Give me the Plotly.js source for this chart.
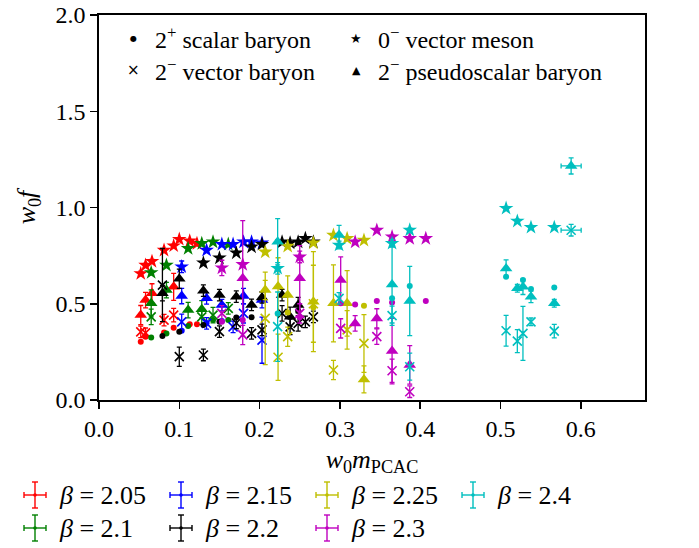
<!DOCTYPE html>
<html>
<head>
<meta charset="utf-8">
<script src="https://cdn.plot.ly/plotly-3.0.1.min.js"></script>
<style>html,body{margin:0;padding:0;background:#fff}</style>
</head>
<body>
<div id="chart" style="width:699px;height:548px"></div>
<script>
// ---- beta = 2.05 ----
const m_205       = [0.052, 0.058, 0.066, 0.081, 0.093, 0.100, 0.113, 0.122];
const meson_205   = [0.657, 0.700, 0.720, 0.778, 0.801, 0.835, 0.826, 0.813];
const mesonE_205  = [0.012, 0.010, 0.010, 0.008, 0.008, 0.008, 0.007, 0.007];
const scalar_205  = [0.302, 0.328, null, 0.351, 0.375, null, 0.393, 0.394];
const vector_205  = [0.354, 0.349, null, 0.415, 0.441, null, null, null];
const vectorE_205 = [0.030, 0.025, 0, 0.030, 0.035, 0, 0, 0];
const pseudo_205  = [0.441, 0.519, 0.554, null, 0.588, null, null, null];
const pseudoE_205 = [0.050, 0.040, 0.050, 0, 0.070, 0, 0, 0];

// ---- beta = 2.1 ----
const m_210       = [0.065, 0.084, 0.111, 0.128, 0.142, 0.161];
const meson_210   = [0.662, 0.700, 0.787, 0.813, 0.821, 0.809];
const mesonE_210  = [0.012, 0.010, 0.008, 0.007, 0.007, 0.007];
const scalar_210  = [0.325, 0.346, 0.385, null, 0.415, 0.415];
const vector_210  = [0.432, null, null, 0.432, 0.441, 0.476];
const vectorE_210 = [0.040, 0, 0, 0.040, 0.040, 0.030];
const pseudo_210  = [0.502, 0.571, 0.467, 0.471, null, null];
const pseudoE_210 = [0.070, 0.040, 0.040, 0.045, 0, 0];

// ---- beta = 2.15 ----
const m_215       = [0.103, 0.134, 0.153, 0.167, 0.180, 0.190, 0.203];
const meson_215   = [0.692, 0.778, 0.809, 0.809, 0.821, 0.821, 0.816];
const mesonE_215  = [0.030, 0.010, 0.008, 0.008, 0.007, 0.007, 0.007];
const scalar_215  = [0.360, 0.400, 0.410, null, null, null, null];
const vector_215  = [0.406, 0.398, null, 0.380, 0.450, null, 0.311];
const vectorE_215 = [0.040, 0.030, 0, 0.030, 0.050, 0, 0.120];
const pseudo_215  = [0.540, 0.528, 0.493, null, 0.540, null, 0.519];
const pseudoE_215 = [0.040, 0.030, 0.030, 0, 0.040, 0, 0.040];

// ---- beta = 2.2 ----
const m_220       = [0.079, 0.100, 0.130, 0.150, 0.171, 0.190, 0.203, 0.228, 0.238, 0.248, 0.257, 0.267];
const meson_220   = [null, null, 0.712, 0.738, 0.764, 0.795, 0.809, 0.821, 0.816, 0.821, 0.839, 0.821];
const mesonE_220  = [0, 0, 0.010, 0.008, 0.008, 0.007, 0.007, 0.007, 0.007, 0.007, 0.007, 0.007];
const scalar_220  = [0.332, 0.355, 0.390, 0.407, 0.428, 0.430, null, null, null, 0.463, null, null];
const vector_220  = [0.597, 0.225, 0.234, 0.355, 0.400, 0.346, 0.364, 0.450, 0.380, 0.398, 0.406, 0.432];
const vectorE_220 = [0.190, 0.050, 0.030, 0.030, 0.030, 0.030, 0.030, 0.040, 0.040, 0.040, 0.030, 0.030];
const pseudo_220  = [0.555, 0.630, 0.568, 0.545, 0.537, 0.494, 0.533, 0.545, 0.432, 0.493, null, null];
const pseudoE_220 = [0.040, 0.050, 0.030, 0.030, 0.030, 0.030, 0.030, 0.030, 0.050, 0.040, 0, 0];

// ---- beta = 2.25 ----
const m_225       = [0.207, 0.223, 0.235, 0.267, 0.292, 0.309, 0.330];
const meson_225   = [0.769, null, 0.799, 0.816, 0.856, 0.839, 0.830];
const mesonE_225  = [0.010, 0, 0.008, 0.008, 0.008, 0.008, 0.008];
const scalar_225  = [null, null, 0.455, 0.480, null, null, 0.490];
const vector_225  = [0.424, 0.222, 0.329, 0.500, 0.156, 0.364, 0.294];
const vectorE_225 = [0.240, 0.120, 0.050, 0.200, 0.050, 0.100, 0.150];
const pseudo_225  = [0.571, 0.589, 0.545, 0.511, 0.502, 0.502, 0.107];
const pseudoE_225 = [0.050, 0.150, 0.100, 0.260, 0.200, 0.170, 0.070];

// ---- beta = 2.3 ----
const m_230       = [0.153, 0.179, 0.250, 0.301, 0.319, 0.346, 0.365, 0.387, 0.407];
const meson_230   = [0.686, 0.704, 0.743, null, 0.821, 0.882, 0.848, 0.839, 0.839];
const mesonE_230  = [0.040, 0.010, 0.030, 0, 0.010, 0.010, 0.010, 0.010, 0.010];
const scalar_230  = [0.407, 0.416, 0.430, 0.502, 0.496, 0.514, 0.507, null, 0.514];
const vector_230  = [0.450, 0.338, 0.450, 0.372, null, 0.329, 0.152, 0.043, null];
const vectorE_230 = [0.040, 0.050, 0.050, 0.050, 0, 0.040, 0.060, 0.030, 0];
const pseudo_230  = [null, 0.632, 0.632, 0.623, 0.398, 0.424, 0.254, 0.182, null];
const pseudoE_230 = [0, 0.300, 0.170, 0.120, 0.040, 0.050, 0.170, 0.100, 0];

// ---- beta = 2.4 ----
const m_240       = [0.2225, 0.299, 0.365, 0.387, 0.507, 0.521, 0.528, 0.538, 0.567, 0.588];
const mE_240      = [0, 0, 0, 0, 0, 0, 0, 0, 0, 0.0125];
const meson_240   = [0.684, 0.805, 0.814, 0.883, 0.996, 0.929, null, 0.897, 0.897, null];
const mesonE_240  = [0.030, 0.020, 0.020, 0.010, 0.010, 0.010, 0, 0.010, 0.010, 0];
const scalar_240  = [0.450, null, 0.528, 0.592, 0.640, null, 0.623, 0.576, 0.585, null];
const vector_240  = [0.381, 0.528, 0.438, 0.173, 0.360, 0.306, 0.346, 0.406, 0.358, 0.882];
const vectorE_240 = [0.180, 0.030, 0.050, 0.070, 0.080, 0.060, 0.140, 0.020, 0.035, 0.030];
const pseudo_240  = [0.822, 0.857, 0.600, 0.514, 0.683, 0.580, 0.588, 0.536, 0.502, 1.216];
const pseudoE_240 = [0.120, 0.050, 0.200, 0.180, 0.045, 0.020, 0.040, 0.030, 0.020, 0.042];

const betaLabels = ['2.05', '2.1', '2.15', '2.2', '2.25', '2.3', '2.4'];
const betaColors = ['#ff0000', '#008000', '#0000ff', '#000000', '#bfbf00', '#bf00bf', '#00bfbf'];

const channelLabels = [
  '2<sup>+</sup> scalar baryon',
  '0<sup>\u2212</sup> vector meson',
  '2<sup>\u2212</sup> vector baryon',
  '2<sup>\u2212</sup> pseudoscalar baryon'
];

const ensembles = [
  {m: m_205, s: scalar_205, v: vector_205, vE: vectorE_205, p: pseudo_205, pE: pseudoE_205, me: meson_205, meE: mesonE_205},
  {m: m_210, s: scalar_210, v: vector_210, vE: vectorE_210, p: pseudo_210, pE: pseudoE_210, me: meson_210, meE: mesonE_210},
  {m: m_215, s: scalar_215, v: vector_215, vE: vectorE_215, p: pseudo_215, pE: pseudoE_215, me: meson_215, meE: mesonE_215},
  {m: m_220, s: scalar_220, v: vector_220, vE: vectorE_220, p: pseudo_220, pE: pseudoE_220, me: meson_220, meE: mesonE_220},
  {m: m_225, s: scalar_225, v: vector_225, vE: vectorE_225, p: pseudo_225, pE: pseudoE_225, me: meson_225, meE: mesonE_225},
  {m: m_230, s: scalar_230, v: vector_230, vE: vectorE_230, p: pseudo_230, pE: pseudoE_230, me: meson_230, meE: mesonE_230},
  {m: m_240, mE: mE_240, s: scalar_240, v: vector_240, vE: vectorE_240, p: pseudo_240, pE: pseudoE_240, me: meson_240, meE: mesonE_240}
];

const SERIF = 'Liberation Serif, DejaVu Serif, serif';

function errBar(arr, color) {
  return {type: 'data', array: arr, visible: true, color: color, thickness: 1.3, width: 2.5};
}

function channel(x, xErr, y, yErr, color, symbol, size, open) {
  const t = {
    type: 'scatter', mode: 'markers', x: x, y: y, showlegend: false, hoverinfo: 'x+y',
    marker: {symbol: symbol, size: size, color: color,
             line: {width: open ? 1.6 : 0, color: color}}
  };
  if (yErr) t.error_y = errBar(yErr, color);
  if (xErr) t.error_x = errBar(xErr, color);
  return t;
}

const traces = [];
ensembles.forEach((e, i) => {
  const c = betaColors[i];
  traces.push(channel(e.m, null, e.s, null, c, 'circle', 6, false));
  traces.push(channel(e.m, e.mE, e.v, e.vE, c, 'x-thin-open', 9, true));
  traces.push(channel(e.m, e.mE, e.p, e.pE, c, 'triangle-up', 11, false));
  traces.push(channel(e.m, null, e.me, e.meE, c, 'star', 11, false));
});

// plot-area geometry (pixels) used to place the two legends
const W = 699, H = 548, ML = 99, MR = 54, MT = 15, MB = 148;
const PW = W - ML - MR, PH = H - MT - MB;
const px = v => (v - ML) / PW;
const py = v => (H - MB - v) / PH;

const shapes = [];
const annotations = [];

// frameless channel legend inside the axes
const glyphs = [
  {t: '\u25CF', s: 8},
  {t: '\u2605', s: 13},
  {t: '\u00D7', s: 15},
  {t: '\u25B2', s: 11}
];
channelLabels.forEach((lab, k) => {
  const col = k % 2, row = Math.floor(k / 2);
  const cx = 133 + col * 223, cy = 38 + row * 32;
  annotations.push({xref: 'paper', yref: 'paper', x: px(cx), y: py(cy), text: glyphs[k].t,
    showarrow: false, xanchor: 'center', yanchor: 'middle',
    font: {family: 'DejaVu Sans', size: glyphs[k].s, color: '#000'}});
  annotations.push({xref: 'paper', yref: 'paper', x: px(cx + 20), y: py(cy), text: lab,
    showarrow: false, xanchor: 'left', yanchor: 'middle',
    font: {family: SERIF, size: 24, color: '#000'}});
});

// beta legend below the axes: error-bar crosses with caps
betaLabels.forEach((b, i) => {
  const col = Math.floor(i / 2), row = i % 2;
  const cx = 35 + col * 146, cy = 495 + row * 33;
  const c = betaColors[i];
  const ln = {color: c, width: 1.4};
  const seg = (x0, y0, x1, y1) => shapes.push({type: 'line', xref: 'paper', yref: 'paper',
    x0: px(x0), y0: py(y0), x1: px(x1), y1: py(y1), line: ln, layer: 'above'});
  seg(cx - 11, cy, cx + 11, cy);
  seg(cx, cy - 13, cx, cy + 13);
  seg(cx - 3, cy - 13, cx + 3, cy - 13);
  seg(cx - 3, cy + 13, cx + 3, cy + 13);
  seg(cx - 11, cy - 3, cx - 11, cy + 3);
  seg(cx + 11, cy - 3, cx + 11, cy + 3);
  shapes.push({type: 'circle', xref: 'paper', yref: 'paper',
    x0: px(cx - 1.8), x1: px(cx + 1.8), y0: py(cy + 1.8), y1: py(cy - 1.8),
    fillcolor: c, line: {width: 0}, layer: 'above'});
  annotations.push({xref: 'paper', yref: 'paper', x: px(cx + 22), y: py(cy),
    text: '<i>\u03B2</i> = ' + b, showarrow: false, xanchor: 'left', yanchor: 'middle',
    font: {family: SERIF, size: 26, color: '#000'}});
});

const axisCommon = {
  showgrid: false, zeroline: false, showline: true, mirror: true,
  linecolor: '#000', linewidth: 1.6, ticks: 'outside', ticklen: 7, tickwidth: 1.5,
  tickcolor: '#000', tickfont: {family: SERIF, size: 24, color: '#000'}
};

const layout = {
  width: W, height: H,
  margin: {l: ML, r: MR, t: MT, b: MB},
  paper_bgcolor: '#fff', plot_bgcolor: '#fff',
  showlegend: false,
  xaxis: Object.assign({}, axisCommon, {
    range: [0, 0.68], tick0: 0, dtick: 0.1, tickformat: '.1f',
    title: {text: '<i>w</i><sub>0</sub><i>m</i><sub>PCAC</sub>', font: {family: SERIF, size: 26, color: '#000'}, standoff: 8}
  }),
  yaxis: Object.assign({}, axisCommon, {
    range: [0, 2], tick0: 0, dtick: 0.5, tickformat: '.1f',
    title: {text: '<i>w</i><sub>0</sub><i>f</i>', font: {family: SERIF, size: 26, color: '#000'}, standoff: 12}
  }),
  shapes: shapes,
  annotations: annotations
};

Plotly.newPlot('chart', traces, layout, {staticPlot: true, displayModeBar: false});
</script>
</body>
</html>
